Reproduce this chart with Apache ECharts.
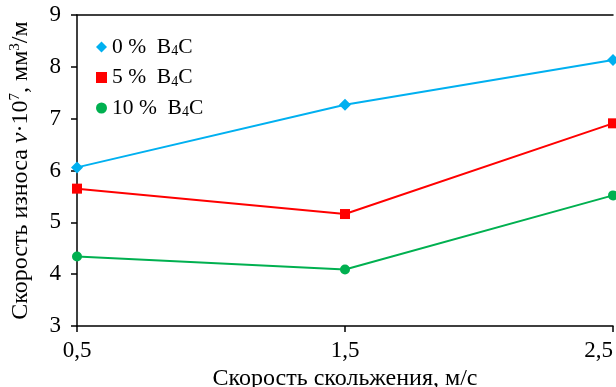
<!DOCTYPE html>
<html>
<head>
<meta charset="utf-8">
<script src="https://cdn.jsdelivr.net/npm/echarts@6/dist/echarts.min.js"></script>
<style>
  html, body { margin: 0; padding: 0; background: #fff; }
  #chart { width: 616px; height: 387px; }
</style>
</head>
<body>
<div id="chart"></div>
<script>
// скорость скольжения, м/с
const speeds = [0.5, 1.5, 2.5]
// скорость износа v·10^7, мм3/м
const wear0 = [6.06, 7.27, 8.13]
const wear5 = [5.65, 5.16, 6.91]
const wear10 = [4.34, 4.09, 5.52]
const seriesNames = ['0 % B4C', '5 % B4C', '10 % B4C']
const legendTexts = ['0 %', '5 %', '10 %']

const font = 'Liberation Serif'

function pairs(vals) {
  return speeds.map((x, i) => [x, vals[i]])
}

const chart = echarts.init(document.getElementById('chart'))

const axisLine = { show: true, lineStyle: { color: '#000', width: 1.5 } }

chart.setOption({
  animation: false,
  grid: { left: 77, right: 3, top: 15, bottom: 61, outerBoundsMode: 'none', containLabel: false },
  legend: {
    orient: 'vertical',
    left: 91,
    top: 31,
    itemGap: 8,
    itemWidth: 11,
    itemHeight: 11,
    data: [
      { name: seriesNames[0], icon: 'diamond' },
      { name: seriesNames[1], icon: 'rect' },
      { name: seriesNames[2], icon: 'circle' }
    ],
    formatter: function (name) {
      const i = seriesNames.indexOf(name)
      return '{a|' + legendTexts[i] + '  B}{s|4}{a|C}'
    },
    textStyle: {
      fontFamily: font,
      rich: {
        a: { fontFamily: font, fontSize: 21.5, color: '#000' },
        s: { fontFamily: font, fontSize: 14, color: '#000', verticalAlign: 'bottom', padding: [9, 0, 0, 0] }
      }
    }
  },
  xAxis: [{
    type: 'value',
    min: 0.5,
    max: 2.5,
    interval: 1,
    name: 'Скорость скольжения, м/с',
    nameLocation: 'middle',
    nameGap: 40,
    nameTextStyle: { fontFamily: font, fontSize: 24, color: '#000' },
    axisLine: axisLine,
    axisTick: { show: true, length: 6, lineStyle: { color: '#000', width: 1.5 } },
    axisLabel: {
      margin: 13,
      fontFamily: font,
      fontSize: 23,
      color: '#000',
      alignMaxLabel: 'right',
      formatter: v => String(v).replace('.', ',')
    },
    splitLine: { show: false }
  }, {
    type: 'value',
    position: 'top',
    min: 0.5,
    max: 2.5,
    axisLine: axisLine,
    axisTick: { show: false },
    axisLabel: { show: false },
    splitLine: { show: false }
  }],
  yAxis: {
    type: 'value',
    min: 3,
    max: 9,
    interval: 1,
    name: '{t|Скорость износа }{i|v}{t|·10}{u|7}{t|, мм}{u|3}{t|/м}',
    nameLocation: 'middle',
    nameGap: 43,
    nameTextStyle: {
      rich: {
        t: { fontFamily: font, fontSize: 24, color: '#000' },
        i: { fontFamily: font, fontSize: 24, color: '#000', fontStyle: 'italic' },
        u: { fontFamily: font, fontSize: 15, color: '#000', verticalAlign: 'top', padding: [0, 0, 11, 0] }
      }
    },
    axisLine: axisLine,
    axisTick: { show: true, length: 6, lineStyle: { color: '#000', width: 1.5 } },
    axisLabel: { margin: 16, fontFamily: font, fontSize: 23, color: '#000' },
    splitLine: { show: false }
  },
  series: [{
    name: seriesNames[0],
    type: 'line',
    data: pairs(wear0),
    symbol: 'diamond',
    symbolSize: 12,
    color: '#00B0F0',
    lineStyle: { width: 2 }
  }, {
    name: seriesNames[1],
    type: 'line',
    data: pairs(wear5),
    symbol: 'rect',
    symbolSize: 10,
    color: '#FF0000',
    lineStyle: { width: 2 }
  }, {
    name: seriesNames[2],
    type: 'line',
    data: pairs(wear10),
    symbol: 'circle',
    symbolSize: 10,
    color: '#00B050',
    lineStyle: { width: 2 }
  }]
})
</script>
</body>
</html>
